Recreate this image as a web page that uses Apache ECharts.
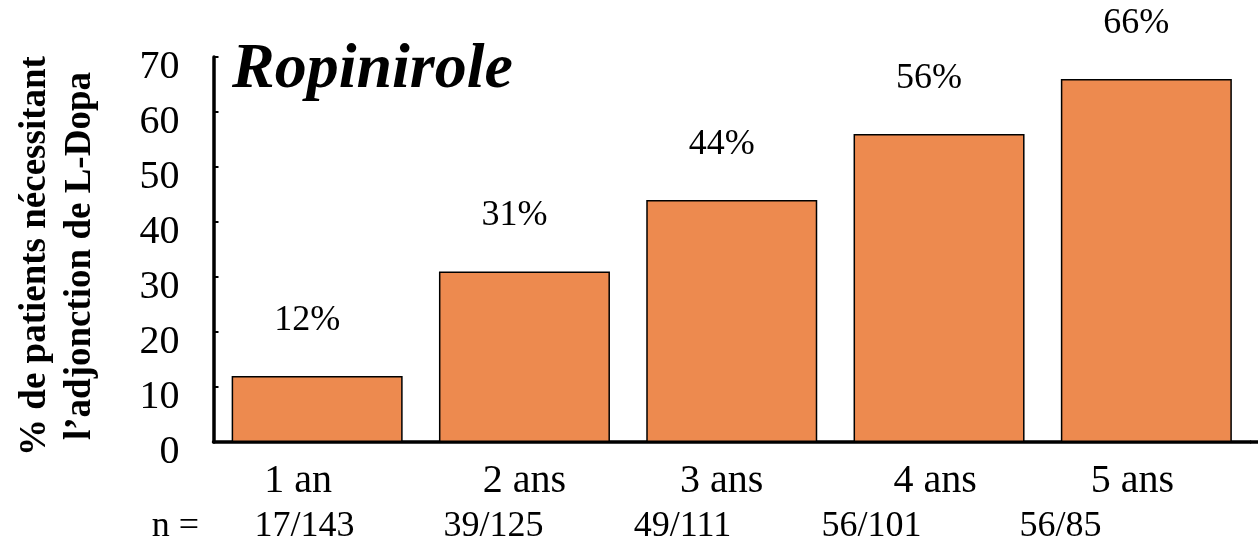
<!DOCTYPE html>
<html>
<head>
<meta charset="utf-8">
<title>Ropinirole – adjonction de L-Dopa</title>
<script src="https://cdn.jsdelivr.net/npm/echarts@6/dist/echarts.min.js"></script>
<style>
  html, body { margin: 0; padding: 0; background: #ffffff; }
  #chart { width: 1258px; height: 545px; }
</style>
</head>
<body>
<div id="chart"></div>
<script>
// Years of follow-up and share of patients who needed L-Dopa added (%)
const categories = ['1 an', '2 ans', '3 ans', '4 ans', '5 ans'];
const percentNeedingLDopa = [12, 31, 44, 56, 66];
// Patients concerned / patients followed, per year
const sampleSizes = ['17/143', '39/125', '49/111', '56/101', '56/85'];
// Y scale
const yMin = 0, yMax = 70, yStep = 10;

const SERIF = '"Liberation Serif", "Times New Roman", serif';
const BAR_COLOR = '#ED8A4F';

// small horizontal nudges for the year labels (px, negative = left)
const yearLabelShift = [-19, 0, -10, -4, -14];
const yearRich = {};
yearLabelShift.forEach((s, i) => {
  yearRich['y' + i] = {
    fontFamily: SERIF, fontSize: 40, lineHeight: 40, color: '#000',
    padding: s < 0 ? [0, -2 * s, 0, 0] : [0, 0, 0, 2 * s]
  };
});

const chart = echarts.init(document.getElementById('chart'), null, { renderer: 'canvas' });

const option = {
  backgroundColor: '#ffffff',
  animation: false,
  title: {
    text: 'Ropinirole',
    left: 232, top: 38, padding: 0,
    textStyle: {
      fontFamily: SERIF, fontSize: 64, lineHeight: 64,
      fontWeight: 'bold', fontStyle: 'italic', color: '#000'
    }
  },
  grid: [
    { left: 213.5, right: 8, top: 57, bottom: 103, containLabel: false },
    { left: 210, right: 103, top: 57, bottom: 15, containLabel: false }
  ],
  xAxis: [
    {
      type: 'category', gridIndex: 0, data: categories,
      axisLine: { lineStyle: { color: '#000', width: 3.5 } },
      axisTick: { show: false },
      axisLabel: {
        margin: 19,
        formatter: (v, i) => '{y' + i + '|' + v + '}',
        rich: yearRich
      }
    },
    {
      type: 'category', gridIndex: 1, data: sampleSizes,
      name: 'n =', nameLocation: 'start', nameGap: 11,
      nameTextStyle: { fontFamily: SERIF, fontSize: 36, color: '#000' },
      axisLine: { show: false },
      axisTick: { show: false },
      axisLabel: {
        margin: -18,
        fontFamily: SERIF, fontSize: 36, lineHeight: 36, color: '#000'
      }
    }
  ],
  yAxis: [
    {
      type: 'value', gridIndex: 0,
      min: yMin, max: yMax, interval: yStep,
      name: '% de patients nécessitant\nl\u2019adjonction de L-Dopa',
      nameLocation: 'middle', nameRotate: 90, nameGap: 111,
      nameTextStyle: {
        fontFamily: SERIF, fontSize: 37, lineHeight: 45,
        fontWeight: 'bold', color: '#000', padding: [0, 13, 0, 0]
      },
      axisLine: { show: true, lineStyle: { color: '#000', width: 3.5 } },
      axisTick: { show: true, inside: true, length: 5, lineStyle: { color: '#000', width: 2 } },
      axisLabel: {
        show: true, showMinLabel: true, showMaxLabel: true, hideOverlap: false,
        margin: 34, verticalAlign: 'top', lineHeight: 20,
        fontFamily: SERIF, fontSize: 40, color: '#000'
      },
      splitLine: { show: false }
    },
    {
      type: 'value', gridIndex: 1, show: false
    }
  ],
  series: [
    {
      type: 'bar',
      xAxisIndex: 0, yAxisIndex: 0,
      data: percentNeedingLDopa,
      barWidth: 171,
      itemStyle: { color: BAR_COLOR, borderColor: '#000', borderWidth: 1.5 },
      label: {
        show: true, position: 'top', distance: 37.5, offset: [-10, 0],
        formatter: p => p.value + '%',
        fontFamily: SERIF, fontSize: 36, lineHeight: 36, color: '#000'
      }
    }
  ]
};

chart.setOption(option);

// carry the baseline on to the right edge of the page
const baseY = chart.convertToPixel({ yAxisIndex: 0 }, yMin);
const gridRightX = chart.getWidth() - option.grid[0].right;
chart.setOption({
  graphic: [{
    type: 'line', silent: true,
    shape: { x1: gridRightX, y1: baseY, x2: chart.getWidth(), y2: baseY },
    style: { stroke: '#000', lineWidth: 3.5 }
  }]
});
</script>
</body>
</html>
